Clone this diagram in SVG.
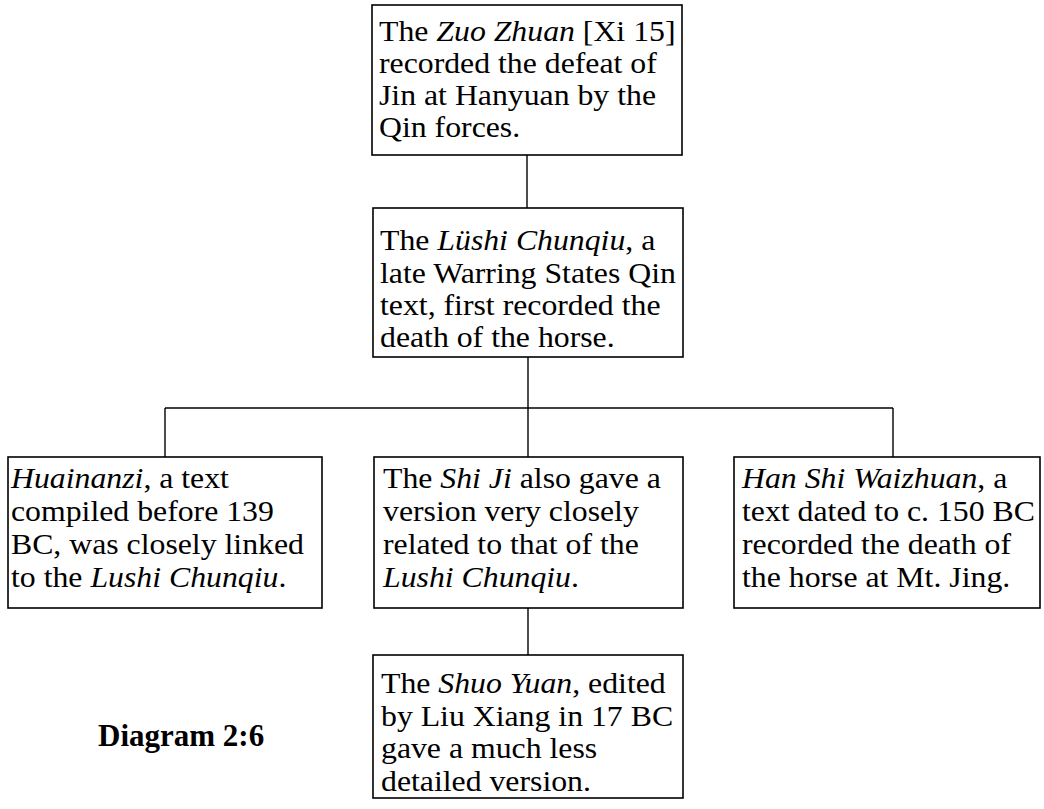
<svg xmlns="http://www.w3.org/2000/svg" width="1044" height="809" viewBox="0 0 1044 809">
  <style>
    .box { fill: #ffffff; stroke: #000000; stroke-width: 1.6; }
    .link { fill: none; stroke: #000000; stroke-width: 1.4; }
    .t { font-family: "Liberation Serif", "Times New Roman", serif; font-size: 28.5px; fill: #000000; }
    .i { font-style: italic; }
    .title { font-family: "Liberation Serif", "Times New Roman", serif; font-size: 31px; font-weight: bold; fill: #000000; }
  </style>
  <rect width="1044" height="809" fill="#ffffff"/>

  <!-- connectors -->
  <g id="connectors">
    <line class="link" x1="527" y1="155" x2="527" y2="208"/>
    <line class="link" x1="528" y1="357" x2="528" y2="408"/>
    <line class="link" x1="165" y1="408" x2="893" y2="408"/>
    <line class="link" x1="165" y1="408" x2="165" y2="457"/>
    <line class="link" x1="528" y1="408" x2="528" y2="457"/>
    <line class="link" x1="893" y1="408" x2="893" y2="457"/>
    <line class="link" x1="528" y1="608" x2="528" y2="655"/>
  </g>

  <!-- Zuo Zhuan -->
  <g id="zuo-zhuan">
    <rect class="box" x="372" y="5" width="310" height="150"/>
    <g transform="translate(379,0) scale(1.115,1)">
      <text class="t" x="0" y="41">The <tspan class="i">Zuo Zhuan</tspan> [Xi 15]</text>
      <text class="t" x="0" y="73">recorded the defeat of</text>
      <text class="t" x="0" y="105">Jin at Hanyuan by the</text>
      <text class="t" x="0" y="137">Qin forces.</text>
    </g>
  </g>

  <!-- Lüshi Chunqiu -->
  <g id="lushi-chunqiu">
    <rect class="box" x="373" y="208" width="310" height="149"/>
    <g transform="translate(380,0) scale(1.115,1)">
      <text class="t" x="0" y="250">The <tspan class="i">Lüshi Chunqiu</tspan>, a</text>
      <text class="t" x="0" y="283">late Warring States Qin</text>
      <text class="t" x="0" y="315">text, first recorded the</text>
      <text class="t" x="0" y="347">death of the horse.</text>
    </g>
  </g>

  <!-- Huainanzi -->
  <g id="huainanzi">
    <rect class="box" x="8" y="457" width="314" height="151"/>
    <g transform="translate(11,0) scale(1.115,1)">
      <text class="t" x="0" y="488"><tspan class="i">Huainanzi</tspan>, a text</text>
      <text class="t" x="0" y="521">compiled before 139</text>
      <text class="t" x="0" y="554">BC, was closely linked</text>
      <text class="t" x="0" y="587">to the <tspan class="i">Lushi Chunqiu</tspan>.</text>
    </g>
  </g>

  <!-- Shi Ji -->
  <g id="shi-ji">
    <rect class="box" x="374" y="457" width="309" height="151"/>
    <g transform="translate(383,0) scale(1.115,1)">
      <text class="t" x="0" y="488">The <tspan class="i">Shi Ji</tspan> also gave a</text>
      <text class="t" x="0" y="521">version very closely</text>
      <text class="t" x="0" y="554">related to that of the</text>
      <text class="t" x="0" y="587"><tspan class="i">Lushi Chunqiu</tspan>.</text>
    </g>
  </g>

  <!-- Han Shi Waizhuan -->
  <g id="han-shi-waizhuan">
    <rect class="box" x="734" y="457" width="306" height="151"/>
    <g transform="translate(742,0) scale(1.115,1)">
      <text class="t" x="0" y="488"><tspan class="i">Han Shi Waizhuan</tspan>, a</text>
      <text class="t" x="0" y="521">text dated to c. 150 BC</text>
      <text class="t" x="0" y="554">recorded the death of</text>
      <text class="t" x="0" y="587">the horse at Mt. Jing.</text>
    </g>
  </g>

  <!-- Shuo Yuan -->
  <g id="shuo-yuan">
    <rect class="box" x="373" y="655" width="310" height="143"/>
    <g transform="translate(381,0) scale(1.115,1)">
      <text class="t" x="0" y="693">The <tspan class="i">Shuo Yuan</tspan>, edited</text>
      <text class="t" x="0" y="726">by Liu Xiang in 17 BC</text>
      <text class="t" x="0" y="758">gave a much less</text>
      <text class="t" x="0" y="791">detailed version.</text>
    </g>
  </g>

  <!-- caption -->
  <text class="title" x="98" y="746">Diagram 2:6</text>
</svg>
